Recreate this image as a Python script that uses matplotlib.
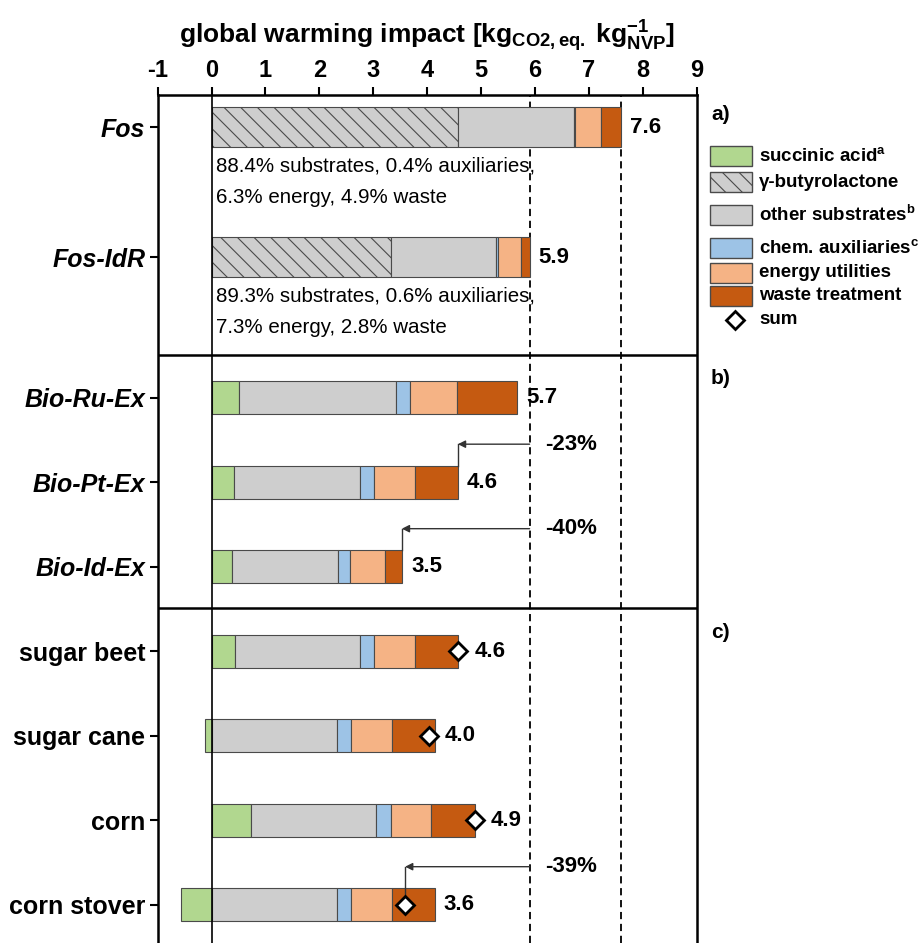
import matplotlib
matplotlib.use("Agg")
import matplotlib.pyplot as plt
from matplotlib.patches import Rectangle
import numpy as np

plt.rcParams["font.family"] = ["Liberation Sans", "DejaVu Sans"]
plt.rcParams["mathtext.fontset"] = "custom"
plt.rcParams["mathtext.rm"] = "Liberation Sans"
plt.rcParams["mathtext.bf"] = "Liberation Sans:bold"
plt.rcParams["mathtext.it"] = "Liberation Sans:italic"
plt.rcParams["hatch.linewidth"] = 0.8

# ---- data (kg CO2-eq per kg NVP) ----
routes = ["Fos", "Fos-IdR", "Bio-Ru-Ex", "Bio-Pt-Ex", "Bio-Id-Ex",
          "sugar beet", "sugar cane", "corn", "corn stover"]
succinic_acid = [0.00, 0.00, 0.50, 0.42, 0.37, 0.43, -0.12, 0.73, -0.56]
butyrolactone = [4.58, 3.33, 0.00, 0.00, 0.00, 0.00, 0.00, 0.00, 0.00]
other_substrates = [2.14, 1.94, 2.92, 2.34, 1.98, 2.33, 2.33, 2.33, 2.33]
chem_auxiliaries = [0.03, 0.035, 0.26, 0.26, 0.22, 0.26, 0.26, 0.26, 0.26]
energy_utilities = [0.48, 0.43, 0.88, 0.76, 0.65, 0.76, 0.76, 0.76, 0.76]
waste_treatment = [0.37, 0.165, 1.11, 0.79, 0.31, 0.80, 0.80, 0.80, 0.80]
share_notes = {
    "Fos": ["88.4% substrates, 0.4% auxiliaries,", "6.3% energy, 4.9% waste"],
    "Fos-IdR": ["89.3% substrates, 0.6% auxiliaries,", "7.3% energy, 2.8% waste"],
}
feedstock_rows = ["sugar beet", "sugar cane", "corn", "corn stover"]
reduction_rows = ["Bio-Pt-Ex", "Bio-Id-Ex", "corn stover"]
italic_rows = ["Fos", "Fos-IdR", "Bio-Ru-Ex", "Bio-Pt-Ex", "Bio-Id-Ex"]
xticks = list(range(-1, 10))

# ---- styling ----
C_SA = "#b1d78f"
C_GRAY = "#cecece"
C_AUX = "#9dc3e6"
C_EN = "#f5b385"
C_WA = "#c55a11"
EDGE = "#4a4a4a"

pos = np.array([0.0, 1.54, 3.2, 4.2, 5.2, 6.2, 7.2, 8.2, 9.2])
heights = np.array([0.473, 0.473] + [0.394] * 7)
separators = [2.70, 5.69]

fig = plt.figure(figsize=(9.22, 9.43), dpi=100)
ax = fig.add_axes([0.1710, 0.0, 0.5846, 0.8996])

sa = np.array(succinic_acid)
components = [
    (np.array(butyrolactone), C_GRAY, "\\\\"),
    (np.array(other_substrates), C_GRAY, None),
    (np.array(chem_auxiliaries), C_AUX, None),
    (np.array(energy_utilities), C_EN, None),
    (np.array(waste_treatment), C_WA, None),
]

# succinic acid: negative credits extend left of zero
m = sa != 0
ax.barh(pos[m], sa[m], left=0, height=heights[m], color=C_SA,
        edgecolor=EDGE, linewidth=0.8, zorder=3)
left = np.clip(sa, 0, None)
for vals, col, hatch in components:
    m = vals != 0
    ax.barh(pos[m], vals[m], left=left[m], height=heights[m], color=col,
            edgecolor=EDGE, linewidth=0.8, hatch=hatch, zorder=3)
    left = left + vals
pos_end = left
net = pos_end + np.clip(sa, None, 0)

idx = {r: i for i, r in enumerate(routes)}
ref_total = net[idx["Fos-IdR"]]
fos_total = net[idx["Fos"]]

# reference lines
for xv in (ref_total, fos_total):
    ax.axvline(xv, color="black", lw=1.3, ls=(0, (4, 2.6)), zorder=2)
ax.axvline(0, color="black", lw=1.2, zorder=4)
for s in separators:
    ax.axhline(s, color="black", lw=1.8, zorder=4)

# sums as diamonds for feedstock rows
fi = [idx[r] for r in feedstock_rows]
ax.plot(net[fi], pos[fi], "D", ms=9, mfc="white", mec="black", mew=2,
        zorder=6, ls="none")

# value labels
for i, r in enumerate(routes):
    if r in feedstock_rows:
        xl = max(pos_end[i] + 0.15, net[i] + 0.3)
    else:
        xl = net[i] + 0.17
    ax.text(xl, pos[i], f"{net[i]:.1f}", fontsize=16, fontweight="bold",
            va="center", ha="left", zorder=7)

# contribution notes for fossil routes
for r, lines in share_notes.items():
    i = idx[r]
    ax.text(0.08, pos[i] + 0.457, lines[0], fontsize=14.8, va="center")
    ax.text(0.08, pos[i] + 0.835, lines[1], fontsize=14.8, va="center")

# reductions relative to Fos-IdR
for r in reduction_rows:
    i = idx[r]
    ya = pos[i] - 0.45
    x_t = net[i]
    yb = pos[i] if r in feedstock_rows else pos[i] - heights[i] / 2
    ax.plot([x_t, x_t], [ya, yb], color="#333333", lw=1.0, zorder=5)
    ax.annotate("", xy=(x_t, ya), xytext=(ref_total, ya),
                arrowprops=dict(arrowstyle="-|>", color="#333333", lw=1.0,
                                mutation_scale=11, shrinkA=0, shrinkB=0),
                zorder=5)
    pct = round((net[i] / ref_total - 1) * 100)
    ax.text(6.18, ya, f"{pct:d}%", fontsize=16, fontweight="bold",
            va="center", ha="left")

# axes
ax.set_xlim(-1, 9)
ax.set_ylim(9.653, -0.386)
ax.xaxis.tick_top()
ax.xaxis.set_label_position("top")
ax.set_xticks(xticks)
ax.set_xticklabels([str(t) for t in xticks], fontsize=17, fontweight="bold")
ax.set_xlabel(r"global warming impact [kg$_{\mathbf{CO2,eq.}}$ "
              r"kg$_{\mathbf{NVP}}^{\mathbf{-1}}$]",
              fontsize=19, fontweight="bold", labelpad=11)
ax.set_yticks(pos)
ax.set_yticklabels(routes, fontsize=18, fontweight="bold")
for lab, r in zip(ax.get_yticklabels(), routes):
    if r in italic_rows:
        lab.set_fontstyle("italic")
ax.tick_params(axis="both", direction="out", length=6, width=1.5, pad=3)
for side in ("left", "top", "right"):
    ax.spines[side].set_linewidth(1.8)
ax.spines["bottom"].set_visible(False)

# legend and panel labels in figure pixel space
ov = fig.add_axes([0, 0, 1, 1])
ov.set_xlim(0, 922)
ov.set_ylim(943, 0)
ov.axis("off")
legend_items = [
    (r"succinic acid$^{\mathbf{a}}$", C_SA, None, 155.7),
    ("γ-butyrolactone", C_GRAY, "\\\\", 182.3),
    (r"other substrates$^{\mathbf{b}}$", C_GRAY, None, 215.0),
    (r"chem. auxiliaries$^{\mathbf{c}}$", C_AUX, None, 248.0),
    ("energy utilities", C_EN, None, 272.7),
    ("waste treatment", C_WA, None, 296.0),
]
for label, col, hatch, yc in legend_items:
    ov.add_patch(Rectangle((710, yc - 10), 42, 20, facecolor=col,
                           edgecolor=EDGE, lw=1.0, hatch=hatch))
    ov.text(759, yc, label, fontsize=13.5, fontweight="bold", va="center")
ov.plot([735], [320], "D", ms=9, mfc="white", mec="black", mew=2)
ov.text(759, 320, "sum", fontsize=13.5, fontweight="bold", va="center")
for lab, yc in (("a)", 115), ("b)", 378), ("c)", 633)):
    ov.text(711, yc, lab, fontsize=15, fontweight="bold", va="center")

fig.savefig("out.png", dpi=100)
